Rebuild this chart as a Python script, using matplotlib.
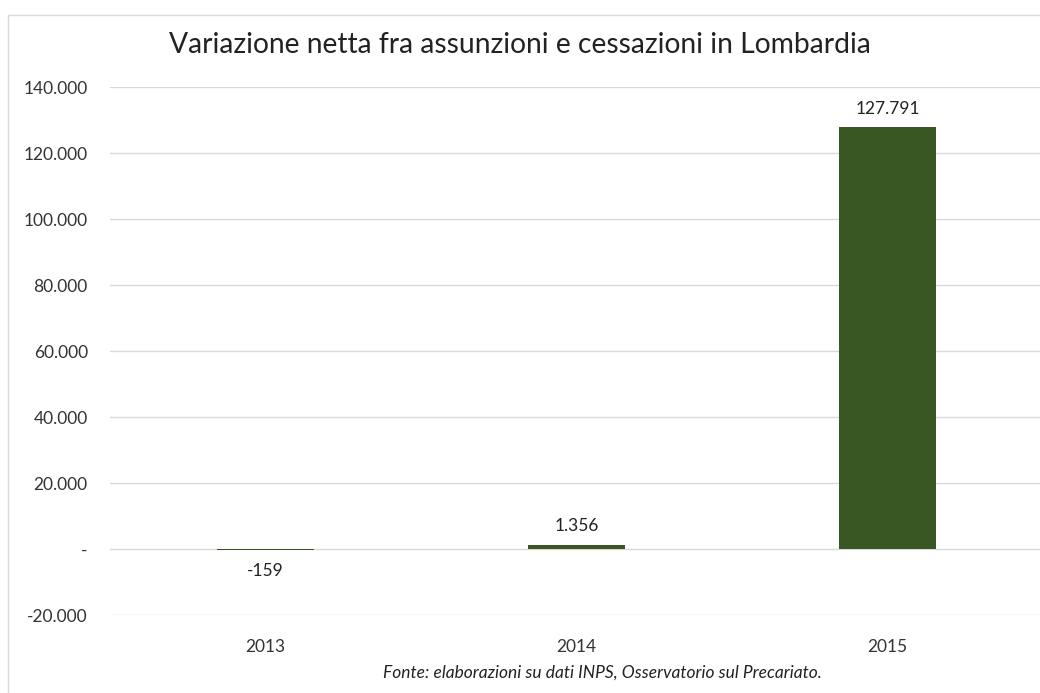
import matplotlib.pyplot as plt
from matplotlib.patches import Rectangle

# dati
anni = ['2013', '2014', '2015']
variazione = [-159, 1356, 127791]
tick_valori = [-20000, 0, 20000, 40000, 60000, 80000, 100000, 120000, 140000]

colore_barre = '#385723'
font = ['Lato', 'DejaVu Sans']


def formato_it(v):
    if v == 0:
        return '-'
    s = f'{abs(v):,}'.replace(',', '.')
    return ('-' if v < 0 else '') + s


fig = plt.figure(figsize=(10.4, 6.93), dpi=100)
ax = fig.add_axes([110 / 1040, 1 - 615 / 693, 933 / 1040, 528 / 693])

x = range(len(anni))
ax.bar(x, variazione, width=0.31, color=colore_barre, linewidth=0, zorder=3)

ax.set_xlim(-0.5, 2.5)
ax.set_ylim(-20000, 140000)
ax.set_yticks(tick_valori)
ax.set_yticklabels([formato_it(v) for v in tick_valori], fontsize=12.5, family=font, color='#333333')
ax.set_xticks(list(x))
ax.set_xticklabels(anni, fontsize=12.5, family=font, color='#333333')
ax.tick_params(length=0)
ax.tick_params(axis='y', pad=16)
ax.tick_params(axis='x', pad=17)
ax.grid(axis='y', color='#d9d9d9', linewidth=1, zorder=0)
for lato in ax.spines.values():
    lato.set_visible(False)

# etichette dei valori
for i, v in enumerate(variazione):
    off = 13 if v >= 0 else -16
    ax.annotate(formato_it(v), (i, max(v, 0)), xytext=(0, off), textcoords='offset points',
                ha='center', va='center', fontsize=12.5, family=font, color='#222222')

fig.text(0.5, 1 - 45 / 693, 'Variazione netta fra assunzioni e cessazioni in Lombardia',
         ha='center', va='center', fontsize=20.3, family=font, color='#222222')
fig.text(602 / 1040, 1 - 673 / 693, 'Fonte: elaborazioni su dati INPS, Osservatorio sul Precariato.',
         ha='center', va='center', fontsize=12.5, style='italic', family=font, color='#222222')

# bordo del grafico
fig.patches.append(Rectangle((8 / 1040, -0.1), 1.2, 1.1 - 15 / 693, transform=fig.transFigure,
                             fill=False, edgecolor='#d9d9d9', linewidth=1))

fig.savefig('out.png', dpi=100)
